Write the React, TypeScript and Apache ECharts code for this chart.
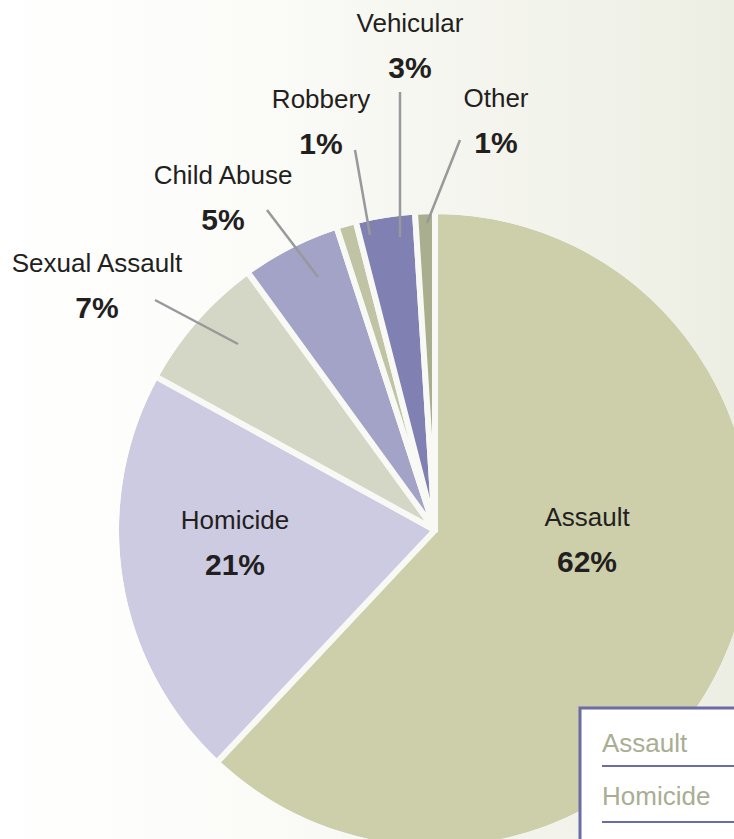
import React, { useEffect, useRef } from "react";
import * as echarts from "echarts";

const categories = ["Assault", "Homicide", "Sexual Assault", "Child Abuse", "Robbery", "Vehicular", "Other"];
const values = [62, 21, 7, 5, 1, 3, 1];
const colors = ["#cdcfab", "#cccbe1", "#d4d7c6", "#a3a2c7", "#c0c4a5", "#8080b3", "#a9ae8e"];
const legendItems = ["Assault", "Homicide"];
const insideLabels = ["Assault", "Homicide"];

// label layout (centre of label block) and leader lines, by category
const labelPlacement: Record<string, { x: number; y: number; line?: number[] }> = {
  Assault: { x: 587, y: 539 },
  Homicide: { x: 235, y: 542 },
  "Sexual Assault": { x: 97, y: 285, line: [238, 344, 155, 300] },
  "Child Abuse": { x: 223, y: 197, line: [318, 277, 267, 210] },
  Robbery: { x: 321, y: 121, line: [370, 235, 355, 150] },
  Vehicular: { x: 410, y: 45, line: [400, 237, 400, 92] },
  Other: { x: 496, y: 120, line: [427, 223, 460, 140] },
};

const FONT = '"Liberation Sans", Arial, sans-serif';
const W = 734;
const H = 839;
const CX = 435;
const CY = 530;
const R = 319;
const BORDER = 6;
const bgStops = [
  { offset: 0, color: "#ffffff" },
  { offset: 0.35, color: "#fbfbf8" },
  { offset: 1, color: "#edeee3" },
];

export default function App() {
  const ref = useRef<HTMLDivElement>(null);
  useEffect(() => {
    const chart = echarts.init(ref.current!, undefined, { renderer: "svg" });
    const data = categories.map((name, i) => {
      const inside = insideLabels.includes(name);
      return {
        name,
        value: values[i],
        itemStyle: { color: colors[i] },
        label: { position: inside ? "inside" : "outside" },
      };
    });
    const leaderLines = categories
      .filter((c) => labelPlacement[c].line)
      .map((c) => {
        const l = labelPlacement[c].line!;
        return {
          type: "line",
          z: 50,
          silent: true,
          shape: { x1: l[0], y1: l[1], x2: l[2], y2: l[3] },
          style: { stroke: "#98999b", lineWidth: 2.5 },
        };
      });
    chart.setOption({
      animation: false,
      backgroundColor: { type: "linear", x: 0, y: 0, x2: 1, y2: 0, colorStops: bgStops },
      legend: {
        data: legendItems,
        orient: "vertical",
        left: 580,
        top: 729,
        icon: "none",
        itemWidth: 0,
        itemHeight: 28,
        itemGap: 26,
        selectedMode: false,
        padding: [0, 0, 0, 17],
        z: 60,
        textStyle: { fontFamily: FONT, fontSize: 26, color: "#a9ae92" },
      },
      graphic: [
        // hides the outer half of the slice separators' stroke so only the gaps between slices remain
        {
          type: "ring",
          z: 40,
          silent: true,
          shape: { cx: CX, cy: CY, r0: R - BORDER / 2, r: R + BORDER },
          style: {
            fill: { type: "linear", x: 0, y: 0, x2: W, y2: 0, global: true, colorStops: bgStops },
          },
        },
        ...leaderLines,
        {
          type: "rect",
          z: 55,
          silent: true,
          shape: { x: 580, y: 708, width: 200, height: 200 },
          style: { fill: "#ffffff", stroke: "#6b6ba6", lineWidth: 3 },
        },
        { type: "line", z: 61, shape: { x1: 602, y1: 766, x2: 734, y2: 766 }, style: { stroke: "#6b6ba6", lineWidth: 2 } },
        { type: "line", z: 61, shape: { x1: 602, y1: 822, x2: 734, y2: 822 }, style: { stroke: "#6b6ba6", lineWidth: 2 } },
      ],
      series: [
        {
          type: "pie",
          center: [CX, CY],
          radius: R,
          startAngle: 90,
          clockwise: true,
          avoidLabelOverlap: false,
          itemStyle: { borderColor: "#f8f9f4", borderWidth: BORDER },
          emphasis: { disabled: true },
          labelLine: { show: false },
          label: {
            show: true,
            formatter: (p: any) => `{n|${p.name}}\n{p|${Math.round(p.percent)}%}`,
            rich: {
              n: { fontFamily: FONT, fontSize: 26, color: "#231f20", lineHeight: 44, align: "center" },
              p: { fontFamily: FONT, fontWeight: "bold", fontSize: 30, color: "#231f20", lineHeight: 44, align: "center" },
            },
          },
          labelLayout: (params: any) => {
            const pl = labelPlacement[categories[params.dataIndex]];
            return { x: pl.x, y: pl.y, align: "center", verticalAlign: "middle" };
          },
          data,
        },
      ],
    });
    return () => chart.dispose();
  }, []);
  return <div ref={ref} style={{ position: "fixed", left: 0, top: 0, width: W, height: H }} />;
}
